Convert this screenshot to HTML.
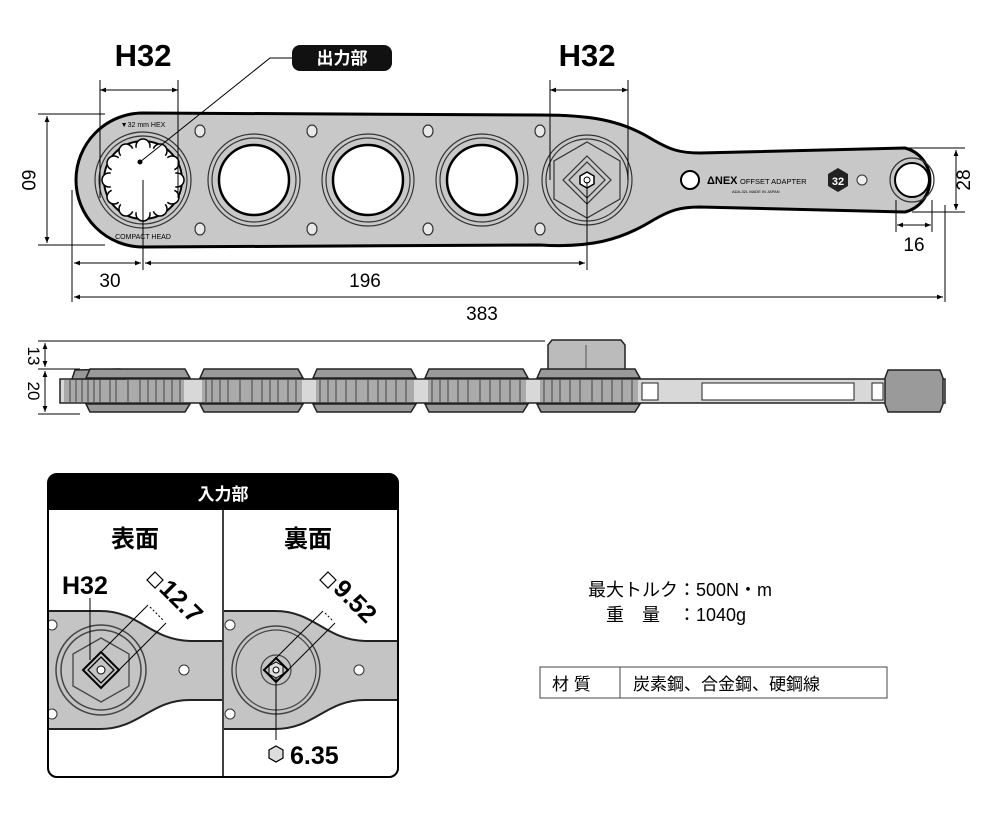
<!DOCTYPE html>
<html><head><meta charset="utf-8"><style>
html,body{margin:0;padding:0;background:#fff;}
svg{display:block;}
text{font-family:"Liberation Sans","Noto Sans CJK JP",sans-serif;}
</style></head><body>
<svg width="1000" height="818" viewBox="0 0 1000 818" xmlns="http://www.w3.org/2000/svg">
<defs>
<marker id="a" viewBox="0 0 10 10" refX="10" refY="5" markerWidth="8" markerHeight="6" orient="auto-start-reverse"><path d="M0,1 L10,5 L0,9 Z" fill="#000"/></marker>
</defs>
<!-- TOP VIEW -->
<path d="M143,113 A67,67 0 0 0 143,247 L540,245 C590,248 620,240 650,222 C670,210 680,207 700,207 L905,212 A33,33 0 0 0 905,148 L700,153 C680,153 670,150 650,138 C620,120 590,115 540,115 Z" fill="#c8c8c8" stroke="#000" stroke-width="3"/>
<!-- left socket -->
<circle cx="143" cy="180" r="48" fill="none" stroke="#333" stroke-width="1.2"/>
<circle cx="143" cy="180" r="44" fill="none" stroke="#333" stroke-width="1.2"/>
<circle cx="143" cy="180" r="39" fill="#fff" stroke="#000" stroke-width="2"/>
<g fill="#fff" stroke="#000" stroke-width="1.5">
<circle cx="143" cy="146" r="7"/><circle cx="160" cy="151" r="7"/><circle cx="172" cy="163" r="7"/><circle cx="177" cy="180" r="7"/><circle cx="172" cy="197" r="7"/><circle cx="160" cy="209" r="7"/><circle cx="143" cy="214" r="7"/><circle cx="126" cy="209" r="7"/><circle cx="114" cy="197" r="7"/><circle cx="109" cy="180" r="7"/><circle cx="114" cy="163" r="7"/><circle cx="126" cy="151" r="7"/>
</g>
<circle cx="143" cy="180" r="33" fill="#fff"/>
<text x="143" y="127" font-size="7" text-anchor="middle">▼32 mm HEX</text>
<text x="143" y="239" font-size="7" text-anchor="middle">COMPACT HEAD</text>
<!-- mid holes -->
<g fill="none" stroke="#333" stroke-width="1.2">
<circle cx="254" cy="180" r="46"/><circle cx="254" cy="180" r="42"/>
<circle cx="368" cy="180" r="46"/><circle cx="368" cy="180" r="42"/>
<circle cx="482" cy="180" r="46"/><circle cx="482" cy="180" r="42"/>
</g>
<g fill="#fff" stroke="#000" stroke-width="2.5">
<circle cx="254" cy="180" r="35"/><circle cx="368" cy="180" r="35"/><circle cx="482" cy="180" r="35"/>
</g>
<g fill="#e8e8e8" stroke="#333" stroke-width="1.2">
<ellipse cx="200" cy="131" rx="5" ry="6"/><ellipse cx="200" cy="229" rx="5" ry="6"/>
<ellipse cx="312" cy="131" rx="5" ry="6"/><ellipse cx="312" cy="229" rx="5" ry="6"/>
<ellipse cx="428" cy="131" rx="5" ry="6"/><ellipse cx="428" cy="229" rx="5" ry="6"/>
<ellipse cx="540" cy="131" rx="5" ry="6"/><ellipse cx="540" cy="229" rx="5" ry="6"/>
</g>
<!-- right head -->
<g fill="none" stroke="#333" stroke-width="1.2">
<circle cx="587" cy="180" r="45"/><circle cx="587" cy="180" r="41"/>
<polygon points="587,142 620,161 620,199 587,218 554,199 554,161"/>
<polygon points="587,156 611,180 587,204 563,180"/>
<polygon points="587,162 605,180 587,198 569,180"/>
</g>
<polygon points="587,172 594,176 594,184 587,188 580,184 580,176" fill="#fff" stroke="#000" stroke-width="1.5"/>
<circle cx="587" cy="180" r="3" fill="#fff" stroke="#000"/>
<!-- handle -->
<circle cx="690" cy="180" r="9" fill="#fff" stroke="#000" stroke-width="2"/>
<text x="707" y="184" font-size="11" font-weight="bold">ΔNEX</text>
<text x="740" y="184" font-size="7.5">OFFSET ADAPTER</text>
<text x="732" y="193" font-size="4">ADA-32L MADE IN JAPAN</text>
<polygon points="838,168 848,174 848,186 838,192 828,186 828,174" fill="#222"/>
<text x="838" y="185" font-size="11" font-weight="bold" fill="#fff" text-anchor="middle">32</text>
<circle cx="862" cy="180" r="5" fill="#eee" stroke="#333"/>
<circle cx="912" cy="180" r="22" fill="none" stroke="#333" stroke-width="1.2"/>
<circle cx="912" cy="180" r="17" fill="#fff" stroke="#000" stroke-width="2"/>
<!-- dims top -->
<g stroke="#000" stroke-width="1" fill="none">
<line x1="100" y1="80" x2="100" y2="198"/><line x1="178" y1="80" x2="178" y2="198"/>
<line x1="100" y1="90" x2="178" y2="90" marker-start="url(#a)" marker-end="url(#a)"/>
<line x1="550" y1="80" x2="550" y2="180"/><line x1="628" y1="80" x2="628" y2="180"/>
<line x1="550" y1="90" x2="628" y2="90" marker-start="url(#a)" marker-end="url(#a)"/>
<line x1="38" y1="114" x2="105" y2="114"/><line x1="38" y1="245" x2="105" y2="245"/>
<line x1="47" y1="116" x2="47" y2="243" marker-start="url(#a)" marker-end="url(#a)"/>
<line x1="72" y1="190" x2="72" y2="302"/><line x1="143" y1="180" x2="143" y2="270"/><line x1="587" y1="182" x2="587" y2="270"/>
<line x1="74" y1="263" x2="141" y2="263" marker-start="url(#a)" marker-end="url(#a)"/>
<line x1="145" y1="263" x2="585" y2="263" marker-start="url(#a)" marker-end="url(#a)"/>
<line x1="945" y1="205" x2="945" y2="302"/>
<line x1="74" y1="297" x2="943" y2="297" marker-start="url(#a)" marker-end="url(#a)"/>
<line x1="905" y1="148" x2="965" y2="148"/><line x1="912" y1="212" x2="965" y2="212"/>
<line x1="956" y1="150" x2="956" y2="210" marker-start="url(#a)" marker-end="url(#a)"/>
<line x1="896" y1="200" x2="896" y2="232"/><line x1="932" y1="200" x2="932" y2="232"/>
<line x1="897" y1="225" x2="931" y2="225" marker-start="url(#a)" marker-end="url(#a)"/>
<polyline points="292,58 270,58 140,162"/>
</g>
<circle cx="140" cy="162" r="2.5"/>
<text x="143" y="66" font-size="31" font-weight="bold" text-anchor="middle">H32</text>
<text x="587" y="66" font-size="31" font-weight="bold" text-anchor="middle">H32</text>
<rect x="292" y="45" width="100" height="26" rx="8" fill="#111"/>
<text x="342" y="64" font-size="17" font-weight="bold" fill="#fff" text-anchor="middle">出力部</text>
<text x="110" y="287" font-size="19" text-anchor="middle">30</text>
<text x="365" y="287" font-size="19" text-anchor="middle">196</text>
<text x="482" y="320" font-size="19" text-anchor="middle">383</text>
<text x="914" y="251" font-size="19" text-anchor="middle">16</text>
<text transform="translate(22,180) rotate(90)" font-size="19" text-anchor="middle">60</text>
<text transform="translate(970,180) rotate(-90)" font-size="19" text-anchor="middle">28</text>
<!-- SIDE VIEW -->
<g stroke="#000" stroke-width="1" fill="none">
<line x1="38" y1="341" x2="545" y2="341"/><line x1="38" y1="369" x2="80" y2="369"/><line x1="38" y1="414" x2="80" y2="414"/>
<line x1="45" y1="343" x2="45" y2="367" marker-start="url(#a)" marker-end="url(#a)"/>
<line x1="45" y1="371" x2="45" y2="412" marker-start="url(#a)" marker-end="url(#a)"/>
</g>
<text transform="translate(28,356) rotate(90)" font-size="17" text-anchor="middle">13</text>
<text transform="translate(28,391) rotate(90)" font-size="17" text-anchor="middle">20</text>
<path d="M548,345 L552,340 L621,340 L625,345 L625,372 L548,372 Z" fill="#bbb" stroke="#222" stroke-width="1.5"/>
<line x1="586" y1="345" x2="586" y2="372" stroke="#555"/>
<rect x="60" y="379" width="885" height="24" fill="#d8d8d8" stroke="#222" stroke-width="1.5"/>
<g fill="#999" stroke="#222" stroke-width="1.5">
<path d="M72,379 L75,370 L120,369 L125,379 Z"/>
<path d="M88,379 L92,369 L125,369 L125,379Z" fill="none" stroke="none"/>
</g>
<g fill="#9a9a9a" stroke="#222" stroke-width="1.5">
<path d="M86,378 L90,369 L185,369 L190,378 Z"/><path d="M86,404 L90,412 L185,412 L190,404 Z"/>
<path d="M200,378 L204,369 L298,369 L303,378 Z"/><path d="M200,404 L204,412 L298,412 L303,404 Z"/>
<path d="M313,378 L317,369 L411,369 L416,378 Z"/><path d="M313,404 L317,412 L411,412 L416,404 Z"/>
<path d="M425,378 L429,369 L523,369 L528,378 Z"/><path d="M425,404 L429,412 L523,412 L528,404 Z"/>
<path d="M537,378 L541,369 L635,369 L640,378 Z"/><path d="M537,404 L541,412 L635,412 L640,404 Z"/>
<path d="M885,378 L888,370 L940,370 L943,378 L943,404 L940,412 L888,412 L885,404 Z"/>
</g>
<g fill="#aaa">
<rect x="64" y="380" width="120" height="22"/><rect x="202" y="380" width="100" height="22"/><rect x="316" y="380" width="98" height="22"/><rect x="428" y="380" width="98" height="22"/><rect x="540" y="380" width="98" height="22"/>
</g>
<g stroke="#444" stroke-width="1">
<path d="M70,380v22M76,380v22M82,380v22M88,380v22M94,380v22M100,380v22M110,380v22M116,380v22M128,380v22M140,380v22M148,380v22M156,380v22M164,380v22M172,380v22M180,380v22"/>
<path d="M206,380v22M212,380v22M220,380v22M228,380v22M240,380v22M252,380v22M262,380v22M270,380v22M278,380v22M288,380v22M296,380v22"/>
<path d="M320,380v22M328,380v22M336,380v22M346,380v22M356,380v22M368,380v22M378,380v22M386,380v22M396,380v22M406,380v22"/>
<path d="M432,380v22M440,380v22M448,380v22M458,380v22M468,380v22M480,380v22M490,380v22M500,380v22M510,380v22M520,380v22"/>
<path d="M544,380v22M552,380v22M560,380v22M570,380v22M580,380v22M592,380v22M602,380v22M612,380v22M622,380v22M632,380v22"/>
</g>
<rect x="642" y="383" width="16" height="17" fill="#fff" stroke="#222"/>
<rect x="702" y="383" width="152" height="17" fill="#fff" stroke="#222"/>
<rect x="872" y="383" width="11" height="17" fill="#fff" stroke="#222"/>
<!-- INPUT PANEL -->
<rect x="48" y="474" width="350" height="303" rx="9" fill="#fff" stroke="#000" stroke-width="2"/>
<path d="M48,510 L48,483 Q48,474 57,474 L389,474 Q398,474 398,483 L398,510 Z" fill="#000"/>
<text x="223" y="500" font-size="17" font-weight="bold" fill="#fff" text-anchor="middle">入力部</text>
<line x1="223" y1="510" x2="223" y2="777" stroke="#000" stroke-width="1.5"/>
<text x="135" y="547" font-size="24" font-weight="bold" text-anchor="middle">表面</text>
<text x="308" y="547" font-size="24" font-weight="bold" text-anchor="middle">裏面</text>
<clipPath id="cl"><rect x="49" y="510" width="173" height="266"/></clipPath>
<clipPath id="cr"><rect x="224" y="510" width="173" height="266"/></clipPath>
<g clip-path="url(#cl)">
<path d="M30,611 L100,611 C140,611 150,640 190,641 L240,641 L240,700 L190,700 C150,700 140,729 100,729 L30,729 Z" fill="#c4c4c4" stroke="#222" stroke-width="2"/>
<circle cx="101" cy="670" r="45" fill="none" stroke="#444" stroke-width="1.5"/>
<circle cx="101" cy="670" r="40" fill="none" stroke="#444" stroke-width="1.5"/>
<polygon points="101,638 129,654 129,686 101,702 73,686 73,654" fill="none" stroke="#444" stroke-width="1.3"/>
<polygon points="101,652 119,670 101,688 83,670" fill="none" stroke="#000" stroke-width="2"/>
<polygon points="101,657 114,670 101,683 88,670" fill="none" stroke="#000" stroke-width="1.3"/>
<circle cx="101" cy="670" r="4" fill="#fff" stroke="#000"/>
<circle cx="52" cy="625" r="5" fill="#fff" stroke="#333"/><circle cx="52" cy="714" r="5" fill="#fff" stroke="#333"/><circle cx="184" cy="670" r="5" fill="#fff" stroke="#333"/>
</g>
<g clip-path="url(#cr)">
<path d="M205,611 L275,611 C315,611 325,640 365,641 L415,641 L415,700 L365,700 C325,700 315,729 275,729 L205,729 Z" fill="#c4c4c4" stroke="#222" stroke-width="2"/>
<circle cx="276" cy="670" r="44" fill="none" stroke="#444" stroke-width="1.5"/>
<circle cx="276" cy="670" r="40" fill="none" stroke="#444" stroke-width="1.2"/>
<circle cx="276" cy="670" r="15" fill="none" stroke="#444" stroke-width="1.2"/>
<polygon points="276,658 288,670 276,682 264,670" fill="none" stroke="#000" stroke-width="2"/>
<polygon points="276,662 283,666 283,674 276,678 269,674 269,666" fill="#ddd" stroke="#000"/>
<circle cx="276" cy="670" r="3" fill="#fff" stroke="#000"/>
<circle cx="230" cy="625" r="5" fill="#fff" stroke="#333"/><circle cx="230" cy="714" r="5" fill="#fff" stroke="#333"/><circle cx="359" cy="670" r="5" fill="#fff" stroke="#333"/>
</g>
<g stroke="#000" stroke-width="1" fill="none">
<line x1="90" y1="598" x2="90" y2="660"/>
<line x1="101" y1="652" x2="148" y2="605"/><line x1="119" y1="670" x2="166" y2="623"/>
<line x1="150" y1="607" x2="164" y2="621" stroke-dasharray="2,2"/>
<line x1="276" y1="658" x2="323" y2="611"/><line x1="288" y1="670" x2="335" y2="623"/>
<line x1="325" y1="613" x2="333" y2="621" stroke-dasharray="2,2"/>
<line x1="276" y1="678" x2="276" y2="740"/>
</g>
<text x="62" y="594" font-size="25" font-weight="bold">H32</text>
<polygon points="155,572 163,580 155,588 147,580" fill="none" stroke="#000" stroke-width="1.2"/>
<text transform="translate(158,590) rotate(45)" font-size="25" font-weight="bold">12.7</text>
<polygon points="328,572 336,580 328,588 320,580" fill="none" stroke="#000" stroke-width="1.2"/>
<text transform="translate(332,590) rotate(45)" font-size="25" font-weight="bold">9.52</text>
<polygon points="276,746 283,750 283,758 276,762 269,758 269,750" fill="#ddd" stroke="#000" stroke-width="1.2"/>
<text x="290" y="764" font-size="25" font-weight="bold">6.35</text>
<!-- specs -->
<text x="588" y="596" font-size="18">最大トルク：500N・m</text>
<text x="606" y="621" font-size="18">重　量　：1040g</text>
<rect x="540" y="667" width="347" height="31" fill="#fff" stroke="#444" stroke-width="1"/>
<line x1="620" y1="667" x2="620" y2="698" stroke="#444"/>
<text x="552" y="690" font-size="17">材 質</text>
<text x="633" y="690" font-size="17">炭素鋼、合金鋼、硬鋼線</text>
</svg>
</body></html>
